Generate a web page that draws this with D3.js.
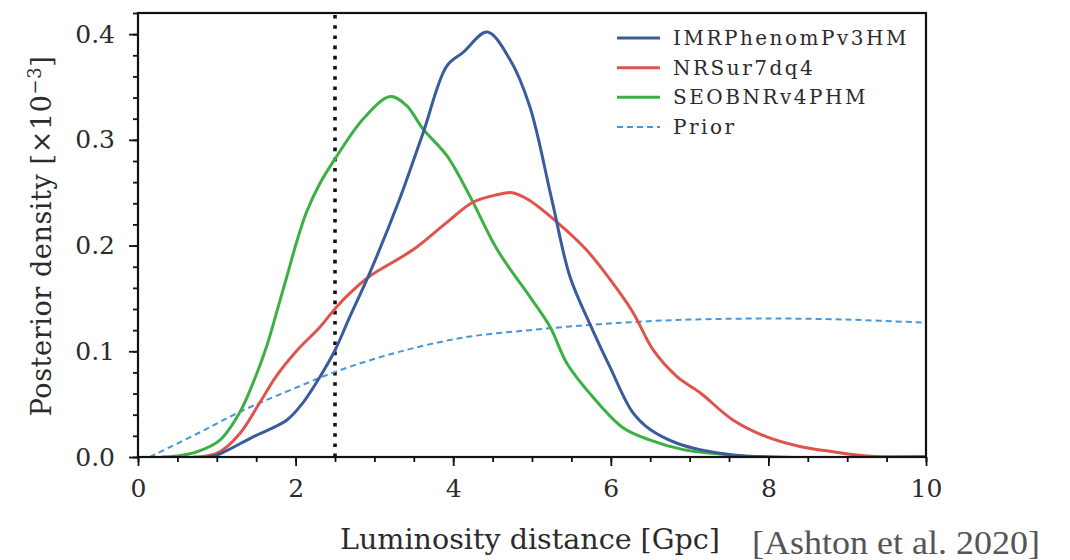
<!DOCTYPE html>
<html>
<head>
<meta charset="utf-8">
<script src="https://cdn.jsdelivr.net/npm/d3@7/dist/d3.min.js"></script>
<style>
  html, body { margin: 0; padding: 0; background: #fff; }
  svg { display: block; }
</style>
</head>
<body>
<svg id="chart" width="1070" height="560"></svg>
<script>
// Luminosity distance (Gpc) and posterior density (x10^-3) for each waveform model
const imrX = [0.9, 1.04, 1.46, 1.89, 2.09, 2.31, 2.5, 2.69, 2.94, 3.32, 3.62, 3.92, 4.13, 4.43, 4.72, 4.97, 5.25, 5.48, 5.74, 5.99, 6.28, 6.5, 6.84, 7.13, 7.55, 8.0, 10];
const imrY = [0, 0.003, 0.019, 0.035, 0.051, 0.076, 0.101, 0.133, 0.174, 0.244, 0.307, 0.37, 0.383, 0.402, 0.376, 0.332, 0.244, 0.171, 0.125, 0.085, 0.042, 0.026, 0.013, 0.007, 0.002, 0, 0];

const nrsX = [0.7, 0.87, 1.04, 1.29, 1.55, 1.76, 2.02, 2.31, 2.52, 2.69, 2.94, 3.49, 3.92, 4.25, 4.55, 4.75, 4.94, 5.32, 5.69, 5.99, 6.28, 6.54, 6.84, 7.13, 7.55, 7.98, 8.4, 8.82, 9.25, 10];
const nrsY = [0, 0.001, 0.005, 0.022, 0.052, 0.077, 0.101, 0.123, 0.142, 0.155, 0.171, 0.196, 0.222, 0.241, 0.248, 0.25, 0.244, 0.222, 0.196, 0.168, 0.137, 0.101, 0.076, 0.061, 0.035, 0.019, 0.01, 0.005, 0.001, 0];

const seobX = [0.3, 0.5, 0.75, 1.04, 1.29, 1.46, 1.63, 1.76, 1.89, 2.02, 2.14, 2.31, 2.5, 2.86, 3.2, 3.4, 3.62, 3.92, 4.21, 4.56, 4.97, 5.23, 5.44, 5.77, 6.15, 6.5, 6.92, 7.5, 8.0, 10];
const seobY = [0, 0.001, 0.005, 0.016, 0.042, 0.07, 0.104, 0.137, 0.171, 0.205, 0.232, 0.259, 0.282, 0.32, 0.341, 0.333, 0.31, 0.285, 0.247, 0.196, 0.152, 0.123, 0.089, 0.057, 0.028, 0.016, 0.007, 0.002, 0, 0];

const priorX = [0.15, 0.75, 1.33, 2.02, 2.52, 3.29, 4.13, 4.97, 5.74, 6.37, 7.0, 7.98, 9.0, 10];
const priorY = [0, 0.022, 0.044, 0.066, 0.081, 0.099, 0.113, 0.12, 0.125, 0.128, 0.13, 0.131, 0.13, 0.127];

const markerDistance = 2.5;

const xTicks = [0, 2, 4, 6, 8, 10];
const yTicks = [0.0, 0.1, 0.2, 0.3, 0.4];

const seriesNames = ["IMRPhenomPv3HM", "NRSur7dq4", "SEOBNRv4PHM", "Prior"];
const seriesColors = ["#3a5b9c", "#e0534b", "#3cb043", "#4596dc"];

const series = [
  { name: seriesNames[0], xs: imrX, ys: imrY, color: seriesColors[0], dashed: false },
  { name: seriesNames[1], xs: nrsX, ys: nrsY, color: seriesColors[1], dashed: false },
  { name: seriesNames[2], xs: seobX, ys: seobY, color: seriesColors[2], dashed: false },
  { name: seriesNames[3], xs: priorX, ys: priorY, color: seriesColors[3], dashed: true }
];

const svg = d3.select("#chart");
const m = { left: 138, right: 926, top: 13, bottom: 457 };

const x = d3.scaleLinear().domain([0, 10]).range([m.left, m.right]);
const y = d3.scaleLinear().domain([0, 0.42]).range([m.bottom, m.top]);

const serif = "'DejaVu Serif', serif";
const ink = "#2b2b2b";

// Curves, clipped to the axes box
svg.append("defs").append("clipPath").attr("id", "plot-clip")
  .append("rect").attr("x", m.left).attr("y", m.top).attr("width", m.right - m.left).attr("height", m.bottom - m.top);

const line = d3.line()
  .x(d => x(d[0]))
  .y(d => Math.min(y(d[1]), m.bottom))
  .curve(d3.curveCatmullRom.alpha(0.5));

const plot = svg.append("g").attr("clip-path", "url(#plot-clip)");

// Dotted reference distance
plot.append("line")
  .attr("x1", x(markerDistance)).attr("x2", x(markerDistance))
  .attr("y1", y.range()[1] + 2).attr("y2", y.range()[0])
  .attr("stroke", "#111").attr("stroke-width", 3.6)
  .attr("stroke-dasharray", "3.6,6.6");

// Draw the prior first so the posteriors sit on top
[series[3], series[2], series[1], series[0]].forEach(s => {
  plot.append("path")
    .datum(s.xs.map((v, i) => [v, s.ys[i]]))
    .attr("fill", "none")
    .attr("stroke", s.color)
    .attr("stroke-width", s.dashed ? 2 : 3)
    .attr("stroke-dasharray", s.dashed ? "6,4" : null)
    .attr("stroke-linejoin", "round")
    .attr("d", line);
});

// Axes: major ticks with labels, minor ticks without
const xAxis = d3.axisBottom(x).tickValues(xTicks).tickSize(9).tickPadding(13).tickFormat(d3.format("d"));
const xMinor = d3.axisBottom(x).tickValues(d3.range(0, 10.01, 0.5)).tickSize(5).tickFormat("");
const yAxis = d3.axisLeft(y).tickValues(yTicks).tickSize(9).tickPadding(14).tickFormat(d3.format(".1f"));
const yMinor = d3.axisLeft(y).tickValues(d3.range(0, 0.4201, 0.02)).tickSize(5).tickFormat("");

function styleAxis(g) {
  g.select(".domain").remove();
  g.selectAll(".tick line").attr("stroke", "#111").attr("stroke-width", 1.8);
  g.selectAll(".tick text")
    .attr("fill", ink)
    .style("font-family", serif)
    .style("font-size", "25px");
}

svg.append("g").attr("transform", `translate(0,${m.bottom})`).call(xMinor).call(styleAxis);
svg.append("g").attr("transform", `translate(0,${m.bottom})`).call(xAxis).call(styleAxis);
svg.append("g").attr("transform", `translate(${m.left},0)`).call(yMinor).call(styleAxis);
svg.append("g").attr("transform", `translate(${m.left},0)`).call(yAxis).call(styleAxis);

// Frame
svg.append("rect")
  .attr("x", m.left).attr("y", m.top)
  .attr("width", m.right - m.left).attr("height", m.bottom - m.top)
  .attr("fill", "none").attr("stroke", "#111").attr("stroke-width", 2.2);

// Axis titles
svg.append("text")
  .attr("x", 530).attr("y", 549)
  .attr("text-anchor", "middle")
  .attr("fill", ink)
  .style("font-family", serif).style("font-size", "27px")
  .attr("textLength", 380).attr("lengthAdjust", "spacingAndGlyphs")
  .text("Luminosity distance [Gpc]");

const yTitle = svg.append("text")
  .attr("transform", "translate(51,236) rotate(-90)")
  .attr("text-anchor", "middle")
  .attr("fill", ink)
  .style("font-family", serif).style("font-size", "27px")
  .style("letter-spacing", "0.6px");
yTitle.append("tspan").text("Posterior density [×10");
yTitle.append("tspan").attr("dy", -10).style("font-size", "18px").text("−3");
yTitle.append("tspan").attr("dy", 10).text("]");

// Citation
svg.append("text")
  .attr("x", 752).attr("y", 554)
  .attr("fill", "#555")
  .style("font-family", "'Liberation Serif', serif").style("font-size", "34px")
  .attr("textLength", 288).attr("lengthAdjust", "spacingAndGlyphs")
  .text("[Ashton et al. 2020]");

// Legend
const legend = svg.append("g");
const legendY = d3.scalePoint().domain(seriesNames).range([38, 127]);
series.forEach(s => {
  const row = legend.append("g").attr("transform", `translate(0,${legendY(s.name)})`);
  row.append("line")
    .attr("x1", 617).attr("x2", 660)
    .attr("stroke", s.color)
    .attr("stroke-width", s.dashed ? 2 : 3)
    .attr("stroke-dasharray", s.dashed ? "6,4" : null);
  row.append("text")
    .attr("x", 673).attr("y", 7)
    .attr("fill", ink)
    .style("font-family", serif).style("font-size", "20px")
    .style("letter-spacing", "2.5px")
    .text(s.name);
});
</script>
</body>
</html>
